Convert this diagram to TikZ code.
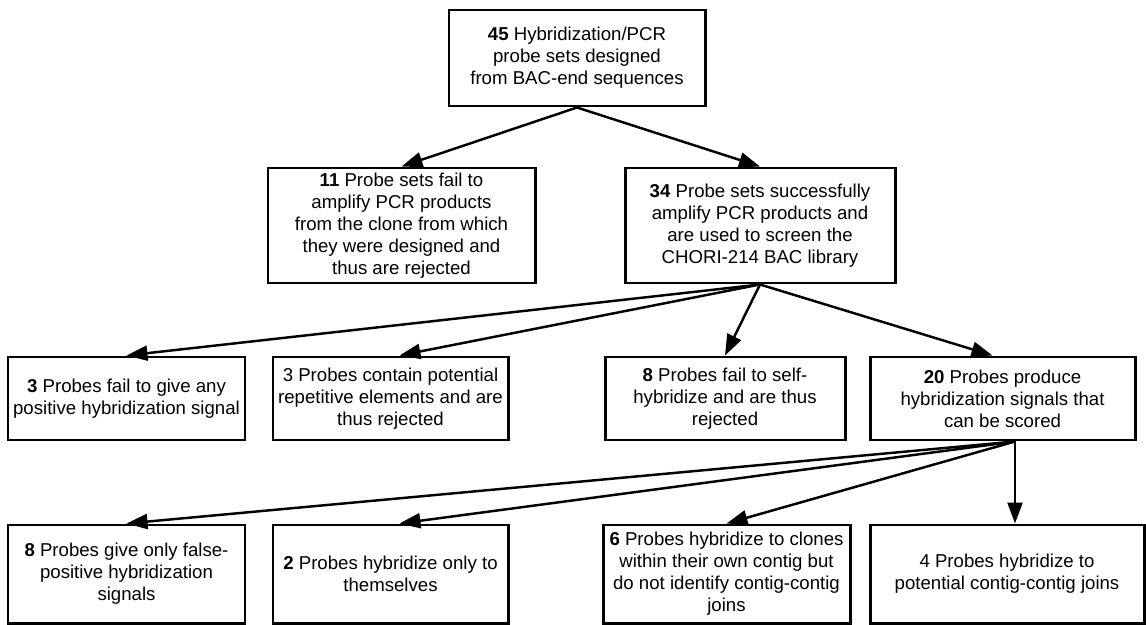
\documentclass[tikz,border=0pt]{standalone}
\usepackage{fontspec}
\setmainfont{Liberation Sans}
\usetikzlibrary{arrows.meta,positioning}

\begin{document}
\begin{tikzpicture}[
  probebox/.style={
    draw=black,
    line width=1.7pt,
    inner sep=0pt,
    align=center,
    font=\fontsize{10.6}{12.5}\selectfont
  },
  flowarrow/.style={
    -{Triangle[length=4.2mm,width=3mm]},
    line width=1.4pt,
    draw=black
  }
  ]
  \useasboundingbox (0,0) rectangle (22.92,-12.5);

  \node[probebox, minimum width=5.12cm, minimum height=1.92cm] (sets45) at (11.54,-1.16) {
    \textbf{45} Hybridization/PCR\\
    probe sets designed\\
    from BAC-end sequences
  };

  \node[probebox, minimum width=5.34cm, minimum height=2.30cm] (fail11) at (8.03,-4.51) {
    \textbf{11} Probe sets fail to\\
    amplify PCR products\\
    from the clone from which\\
    they were designed and\\
    thus are rejected
  };

  \node[probebox, minimum width=5.40cm, minimum height=2.30cm] (ok34) at (15.20,-4.51) {
    \textbf{34} Probe sets successfully\\
    amplify PCR products and\\
    are used to screen the\\
    CHORI-214 BAC library
  };

  \node[probebox, minimum width=4.74cm, minimum height=1.66cm] (nosignal) at (2.53,-7.97) {
    \textbf{3} Probes fail to give any\\
    positive hybridization signal
  };

  \node[probebox, minimum width=4.70cm, minimum height=1.66cm] (repeats) at (7.81,-7.97) {
    3 Probes contain potential\\
    repetitive elements and are\\
    thus rejected
  };

  \node[probebox, minimum width=4.80cm, minimum height=1.66cm] (noself) at (14.50,-7.97) {
    \textbf{8} Probes fail to self-\\
    hybridize and are thus\\
    rejected
  };

  \node[probebox, minimum width=5.30cm, minimum height=1.66cm] (scored) at (20.05,-7.97) {
    \textbf{20} Probes produce\\
    hybridization signals that\\
    can be scored
  };

  \node[probebox, minimum width=4.74cm, minimum height=1.96cm] (falsepos) at (2.53,-11.48) {
    \textbf{8} Probes give only false-\\
    positive hybridization\\
    signals
  };

  \node[probebox, minimum width=4.70cm, minimum height=1.96cm] (selfonly) at (7.81,-11.48) {
    \textbf{2} Probes hybridize only to\\
    themselves
  };

  \node[probebox, minimum width=4.94cm, minimum height=1.96cm] (owncontig) at (14.53,-11.48) {
    \textbf{6} Probes hybridize to clones\\
    within their own contig but\\
    do not identify contig-contig\\
    joins
  };

  \node[probebox, minimum width=5.48cm, minimum height=1.96cm] (joins) at (20.14,-11.48) {
    4 Probes hybridize to\\
    potential contig-contig joins
  };

  % split points
  \coordinate (fan34) at (ok34.south);
  \coordinate (fan20) at ([xshift=0.25cm]scored.south);

  \draw[flowarrow] (sets45.south) -- (fail11.north);
  \draw[flowarrow] (sets45.south) -- (ok34.north);

  \draw[flowarrow] (fan34) -- (nosignal.north);
  \draw[flowarrow] (fan34) -- ([xshift=0.18cm]repeats.north);
  \draw[flowarrow] (fan34) -- (noself.north);
  \draw[flowarrow] (fan34) -- ([xshift=-0.2cm]scored.north);

  \draw[flowarrow] (fan20) -- (falsepos.north);
  \draw[flowarrow] (fan20) -- ([xshift=0.18cm]selfonly.north);
  \draw[flowarrow] (fan20) -- (owncontig.north);
  \draw[flowarrow] (fan20) -- (fan20 |- joins.north);

\end{tikzpicture}
\end{document}
